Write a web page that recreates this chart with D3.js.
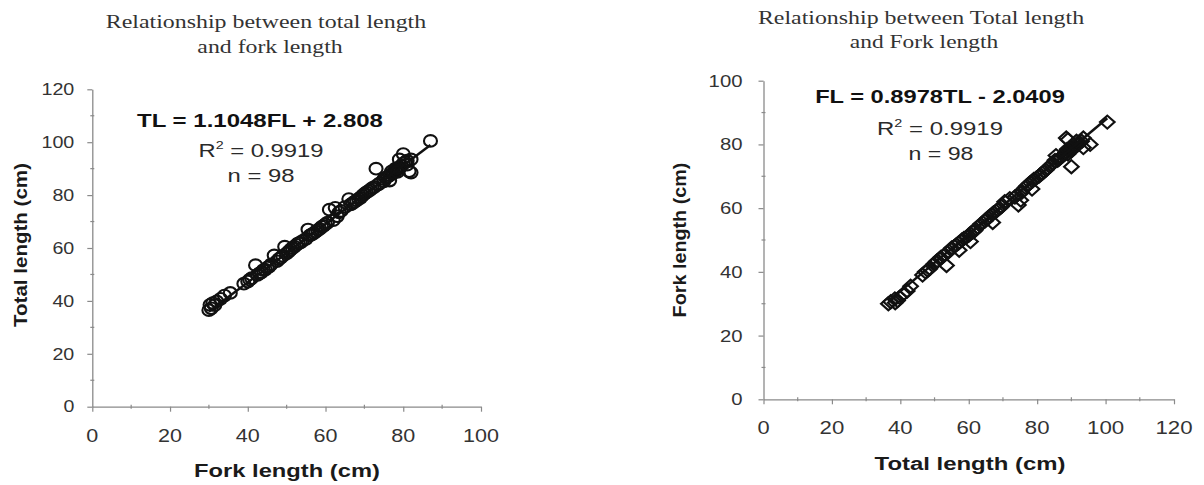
<!DOCTYPE html>
<html><head><meta charset="utf-8">
<script src="https://cdn.jsdelivr.net/npm/d3@7"></script>
<style>html,body{margin:0;padding:0;background:#fff;} svg{display:block}</style>
</head><body><svg id="c" width="1204" height="485"></svg>
<script>
// ---- data (fork length FL, total length TL, cm), n = 98 ----
const forkLength = [
  30.0, 30.3, 30.6, 31.0, 31.5, 32.0, 33.0, 34.0, 35.5,
  39.0, 40.0, 40.5, 41.0, 42.0, 42.5, 43.0, 43.5, 44.0, 44.5, 45.0, 45.5, 46.0, 46.8,
  47.5, 48.0, 48.5, 49.0, 49.5, 50.0, 50.5, 51.0, 51.5, 52.0, 52.5, 53.0, 53.5, 54.0, 55.0, 55.5,
  56.0, 56.5, 57.0, 57.5, 58.0, 58.5, 59.0, 59.5, 60.0, 60.5, 61.0, 62.0, 62.5, 63.0, 63.5, 64.0, 65.0, 66.0,
  66.5, 67.0, 67.5, 68.0, 68.5, 69.0, 69.5, 70.0, 70.5, 71.0, 71.5, 72.0, 72.5, 73.0, 73.5, 74.0, 75.0, 75.5,
  76.0, 76.5, 77.0, 77.0, 77.5, 78.0, 78.0, 78.5, 79.0, 79.0, 79.5, 80.0, 80.0, 80.5, 81.0, 81.5, 82.0, 82.0, 78.5, 76.5, 75.0, 81.0, 87.0
];
const totalLength = [
  36.5, 38.5, 37.2, 39.2, 38.4, 39.8, 40.8, 42.0, 43.0,
  46.5, 47.3, 48.0, 48.6, 53.5, 49.8, 50.4, 50.8, 51.6, 51.8, 52.6, 53.0, 53.8, 57.2,
  55.0, 55.8, 56.4, 57.0, 60.5, 58.0, 58.6, 59.4, 60.0, 60.5, 61.2, 61.8, 62.0, 62.6, 63.5, 67.0,
  64.8, 65.2, 65.6, 66.2, 66.8, 67.2, 68.0, 68.4, 69.0, 69.6, 74.5, 70.5, 75.2, 72.0, 73.5, 74.0, 75.5, 78.5,
  76.5, 77.0, 77.5, 78.0, 78.6, 79.0, 79.8, 80.5, 81.0, 81.5, 82.0, 82.6, 83.0, 90.0, 84.0, 84.5, 86.0, 86.5,
  87.0, 87.5, 88.0, 89.0, 88.5, 89.0, 90.0, 90.2, 90.5, 93.5, 91.0, 95.5, 92.0, 92.5, 93.0, 89.0, 93.5, 88.5, 88.8, 85.5, 85.2, 91.5, 100.5
];
const leftXTicks = [0, 20, 40, 60, 80, 100];
const leftYTicks = [0, 20, 40, 60, 80, 100, 120];
const rightXTicks = [0, 20, 40, 60, 80, 100, 120];
const rightYTicks = [0, 20, 40, 60, 80, 100];
const leftTitle = ["Relationship between total length", "and fork length"];
const rightTitle = ["Relationship between Total length", "and Fork length"];
const leftEquation = ["TL = 1.1048FL + 2.808", "R", "2", " = 0.9919", "n = 98"];
const rightEquation = ["FL = 0.8978TL - 2.0409", "R", "2", " = 0.9919", "n = 98"];
const leftFit = [1.1048, 2.808];
const rightFit = [0.8978, -2.0409];
const leftAxisTitles = ["Fork length (cm)", "Total length (cm)"];
const rightAxisTitles = ["Total length (cm)", "Fork length (cm)"];

const svg = d3.select("#c");
const SANS = "'Liberation Sans', Arial, sans-serif";
const SERIF = "'Liberation Serif', 'Times New Roman', serif";

function label(parent, o) {
  const g = parent.append("g")
    .attr("transform", `translate(${o.x},${o.y})` + (o.rotate ? ` rotate(${o.rotate})` : ""));
  const t = g.append("text")
    .attr("text-anchor", o.anchor || "middle")
    .attr("font-family", o.family || SANS)
    .attr("font-size", o.size)
    .attr("font-weight", o.weight || "normal")
    .attr("fill", o.fill || "#222");
  if (o.dy) t.attr("dy", o.dy);
  if (o.sup) {
    t.append("tspan").text(o.text);
    t.append("tspan").attr("dy", -o.size * 0.42).attr("font-size", o.size * 0.6).text(o.sup);
    t.append("tspan").attr("dy", o.size * 0.42).text(o.rest);
  } else t.text(o.text);
  if (o.width) {
    const w = t.node().getBBox().width;
    t.attr("transform", `scale(${o.width / w},1)`);
  }
  return t;
}

function chart(c) {
  const g = svg.append("g");
  const x = d3.scaleLinear().domain(c.xDomain).range(c.xRange);
  const y = d3.scaleLinear().domain(c.yDomain).range(c.yRange);
  const axisColor = "#8a8a8a";

  const gx = g.append("g").attr("transform", `translate(0,${c.yRange[0]})`)
    .call(d3.axisBottom(x).tickValues(c.xTicks).tickSize(5).tickSizeOuter(0).tickFormat(""));
  const gy = g.append("g").attr("transform", `translate(${c.xRange[0]},0)`)
    .call(d3.axisLeft(y).tickValues(c.yTicks).tickSize(5).tickSizeOuter(0).tickFormat(""));
  [gx, gy].forEach(a => {
    a.select(".domain").attr("stroke", axisColor).attr("stroke-width", 1.3);
    a.selectAll(".tick line").attr("stroke", axisColor).attr("stroke-width", 1.2);
  });
  // minor ticks (crossing)
  const xMinor = c.xTicks.slice(1).map((v, i) => (v + c.xTicks[i]) / 2);
  const yMinor = c.yTicks.slice(1).map((v, i) => (v + c.yTicks[i]) / 2);
  g.selectAll(".xm").data(xMinor).join("line")
    .attr("x1", d => x(d)).attr("x2", d => x(d))
    .attr("y1", c.yRange[0] - 2).attr("y2", c.yRange[0] + 2)
    .attr("stroke", axisColor).attr("stroke-width", 1.2);
  g.selectAll(".ym").data(yMinor).join("line")
    .attr("y1", d => y(d)).attr("y2", d => y(d))
    .attr("x1", c.xRange[0] - 2).attr("x2", c.xRange[0] + 2)
    .attr("stroke", axisColor).attr("stroke-width", 1.2);

  // tick labels
  c.xTicks.forEach(v => label(g, {x: x(v), y: c.yRange[0] + c.xLabOff, text: String(v),
    size: c.xLabSize, width: String(v).length * c.xDigitW, fill: "#333"}));
  c.yTicks.forEach(v => label(g, {x: c.xRange[0] - c.yLabGap, y: y(v), dy: "0.36em", text: String(v),
    size: c.yLabSize, anchor: "end", width: String(v).length * c.yDigitW, fill: "#333"}));

  // points
  const pts = c.xs.map((v, i) => [v, c.ys[i]]);
  if (c.marker === "circle") {
    g.selectAll(".pt").data(pts).join("ellipse")
      .attr("cx", d => x(d[0])).attr("cy", d => y(d[1]))
      .attr("rx", 6.5).attr("ry", 5.8)
      .attr("fill", "none").attr("stroke", "#111").attr("stroke-width", 2.1);
  } else {
    const sym = d3.symbol().type(d3.symbolSquare).size(85);
    g.selectAll(".pt").data(pts).join("path")
      .attr("d", sym)
      .attr("transform", d => `translate(${x(d[0])},${y(d[1])}) scale(1.12,1) rotate(45)`)
      .attr("fill", "none").attr("stroke", "#111").attr("stroke-width", 2);
  }
  // trend line
  const ext = d3.extent(c.xs);
  g.append("path")
    .datum(ext.map(v => [v, c.fit[0] * v + c.fit[1]]))
    .attr("d", d3.line().x(d => x(d[0])).y(d => y(d[1])))
    .attr("stroke", "#111").attr("stroke-width", 2.5).attr("fill", "none");

  // titles
  label(g, {x: c.title[0].x, y: c.title[0].y, text: c.titleText[0], size: 19, family: SERIF, width: c.title[0].w, fill: "#333"});
  label(g, {x: c.title[1].x, y: c.title[1].y, text: c.titleText[1], size: 19, family: SERIF, width: c.title[1].w, fill: "#333"});
  // equation
  label(g, {x: c.eq[0].x, y: c.eq[0].y, text: c.eqText[0], size: 18, weight: "bold", width: c.eq[0].w, fill: "#111"});
  label(g, {x: c.eq[1].x, y: c.eq[1].y, text: c.eqText[1], sup: c.eqText[2], rest: c.eqText[3], size: 18, width: c.eq[1].w, fill: "#2a2a2a"});
  label(g, {x: c.eq[2].x, y: c.eq[2].y, text: c.eqText[4], size: 18, width: c.eq[2].w, fill: "#2a2a2a"});
  // axis titles
  label(g, {x: c.xt.x, y: c.xt.y, text: c.axisTitles[0], size: 17.5, weight: "bold", width: c.xt.w, fill: "#1a1a1a"});
  label(g, {x: c.yt.x, y: c.yt.y, text: c.axisTitles[1], size: 17.5, weight: "bold", width: c.yt.w, rotate: -90, fill: "#1a1a1a"});
}

chart({
  xs: forkLength, ys: totalLength, fit: leftFit, marker: "circle",
  xDomain: [0, 100], xRange: [92.3, 481], yDomain: [0, 120], yRange: [406.7, 89.3],
  xTicks: leftXTicks, yTicks: leftYTicks,
  xLabOff: 35, xLabSize: 18, xDigitW: 12, yLabGap: 18, yLabSize: 16, yDigitW: 11,
  titleText: leftTitle, title: [{x: 266, y: 28, w: 321}, {x: 270, y: 53, w: 146}],
  eqText: leftEquation, eq: [{x: 260, y: 127, w: 246}, {x: 261, y: 157, w: 125}, {x: 261, y: 182, w: 67}],
  axisTitles: leftAxisTitles, xt: {x: 287, y: 477, w: 186}, yt: {x: 27, y: 245, w: 164}
});
chart({
  xs: totalLength, ys: forkLength, fit: rightFit, marker: "diamond",
  xDomain: [0, 120], xRange: [763.5, 1174], yDomain: [0, 100], yRange: [399.3, 80.7],
  xTicks: rightXTicks, yTicks: rightYTicks,
  xLabOff: 35, xLabSize: 17.5, xDigitW: 12.5, yLabGap: 21, yLabSize: 16.5, yDigitW: 11.3,
  titleText: rightTitle, title: [{x: 921, y: 24, w: 327}, {x: 924, y: 48, w: 149}],
  eqText: rightEquation, eq: [{x: 940, y: 103, w: 250}, {x: 940, y: 135, w: 126}, {x: 941, y: 160, w: 65}],
  axisTitles: rightAxisTitles, xt: {x: 970, y: 470, w: 191}, yt: {x: 686, y: 240, w: 155}
});
</script></body></html>
